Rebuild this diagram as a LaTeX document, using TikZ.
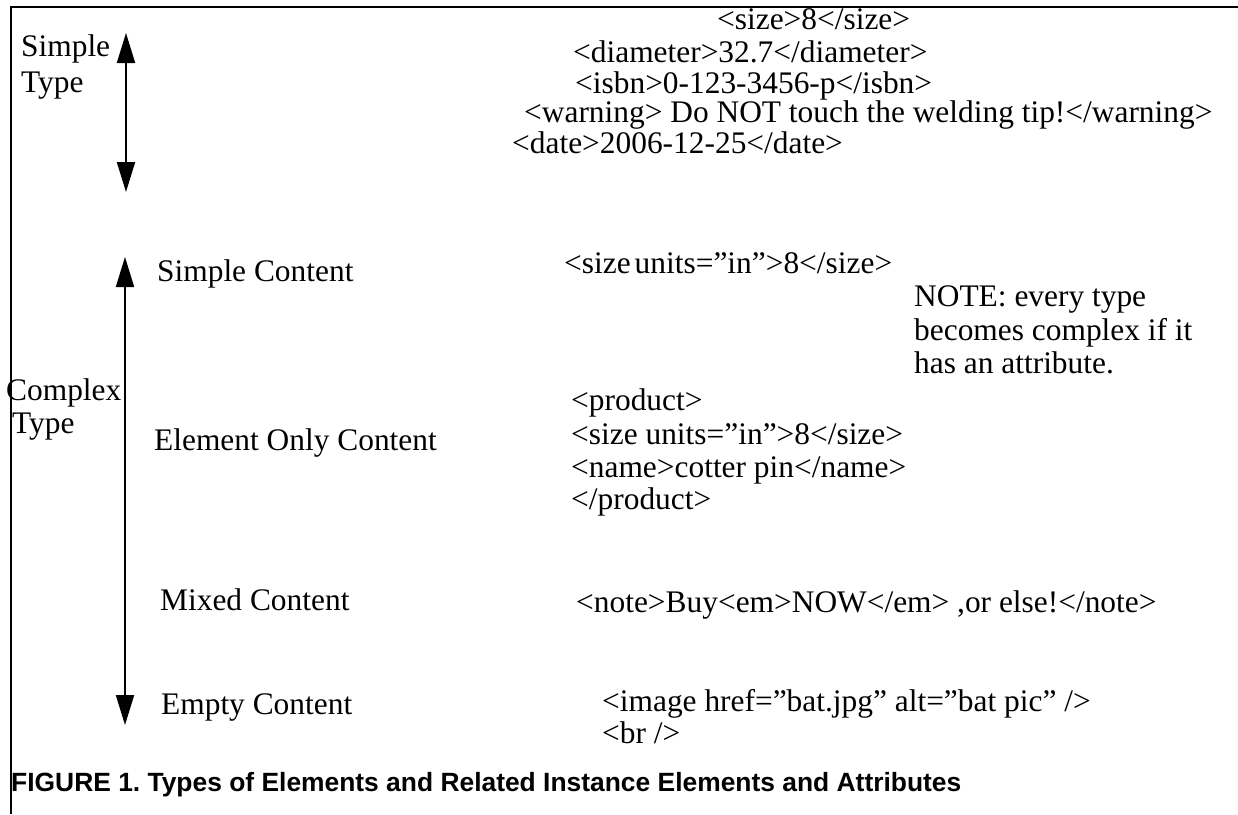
\documentclass[tikz,border=0pt]{standalone}
\usepackage{fontspec}
\setmainfont{Liberation Serif}
\newfontfamily\capfont{Liberation Sans}
\usetikzlibrary{arrows.meta}
\frenchspacing
\begin{document}
\begin{tikzpicture}[x=1pt,y=-1pt,
  txt/.style={anchor=base west,inner sep=0pt,font=\fontsize{31.4}{34.5}\selectfont},
  captxt/.style={anchor=base west,inner sep=0pt,font=\capfont\bfseries\fontsize{26.4}{30}\selectfont},
  frameline/.style={line width=1.2pt},
  spanarrow/.style={line width=2pt,{Triangle[width=18pt,length=30pt]}-{Triangle[width=18pt,length=30pt]}}]
\useasboundingbox (0,0) rectangle (1238,814);
% frame
\coordinate (fb) at (11,814);
\coordinate (fc) at (11,7);
\coordinate (fr) at (1238,7);
\draw[frameline] (fb) -- (fc) -- (fr);
% arrows
\coordinate (st1) at (126,33);
\coordinate (st2) at (126,192);
\draw[spanarrow] (st1) -- (st2);
\coordinate (ct1) at (125,257);
\coordinate (ct2) at (125,725);
\draw[spanarrow] (ct1) -- (ct2);
% left labels
\node[txt] (simple) at (21,56) {Simple};
\node[txt] (stype) at (21,92) {Type};
\node[txt] (complex) at (6,400) {Complex};
\node[txt] (ctype) at (12,433) {Type};
\node[txt] (sc) at (157,281) {Simple Content};
\node[txt] (eoc) at (154,450) {Element Only Content};
\node[txt] (mc) at (160,610) {Mixed Content};
\node[txt] (ec) at (161,714) {Empty Content};
% simple type examples
\node[txt] (x1) at (717,29) {<size>8</size>};
\node[txt] (x2) at (573,62) {<diameter>32.7</diameter>};
\node[txt] (x3) at (575,93) {<isbn>0-123-3456-p</isbn>};
\node[txt] (x4) at (524,122) {<warning> Do NOT touch the welding tip!</warning>};
\node[txt] (x5) at (512,153) {<date>2006-12-25</date>};
% simple content
\node[txt] (s1) at (564,273) {<size\kern4pt units=”in”>8</size>};
\node[txt] (n1) at (914,306) {NOTE: every type};
\node[txt] (n2) at (914,340) {becomes complex if it};
\node[txt] (n3) at (914,373) {has an attribute.};
% element only
\node[txt] (e1) at (571,410) {<product>};
\node[txt] (e2) at (571,444) {<size units=”in”>8</size>};
\node[txt] (e3) at (571,477) {<name>cotter pin</name>};
\node[txt] (e4) at (571,509) {</product>};
% mixed
\node[txt] (m1) at (576,612) {<note>Buy<em>NOW</em> ,or else!</note>};
% empty
\node[txt] (i1) at (602,711) {<image href=”bat.jpg” alt=”bat pic” />};
\node[txt] (i2) at (602,743) {<br />};
% caption
\node[captxt] (cap) at (11,791) {FIGURE 1. Types of Elements and Related Instance Elements and Attributes};
\end{tikzpicture}
\end{document}
